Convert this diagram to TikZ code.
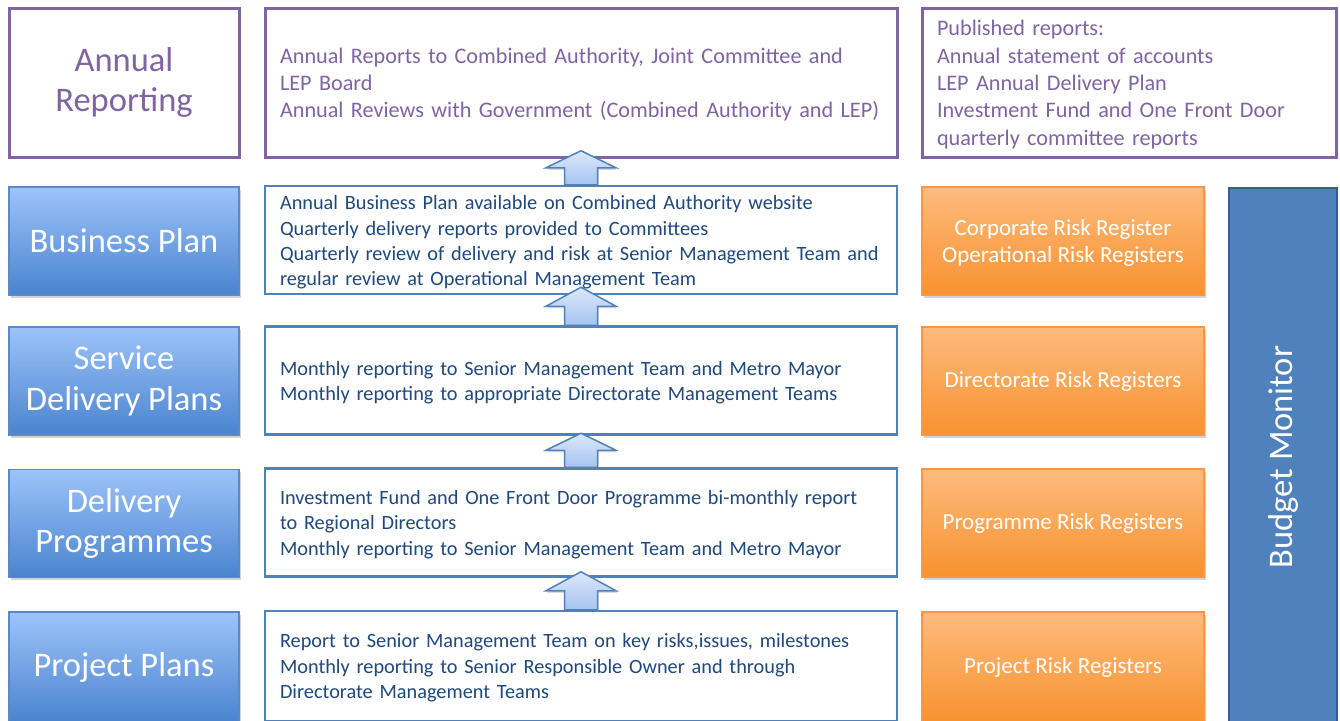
\documentclass[tikz,border=0pt]{standalone}
\usepackage{fontspec}
\setmainfont{Carlito}
\usetikzlibrary{shadows,calc}

\definecolor{purp}{HTML}{8064A2}
\definecolor{bluebd}{HTML}{4F81BD}
\definecolor{bluetxt}{HTML}{1F497D}
\definecolor{lbtop}{HTML}{9DC3FA}
\definecolor{lbbot}{HTML}{4A84CE}
\definecolor{lbbd}{HTML}{5A8AC6}
\definecolor{ortop}{HTML}{FDBB7D}
\definecolor{orbot}{HTML}{F8922F}
\definecolor{orbd}{HTML}{F79646}
\definecolor{bmfill}{HTML}{4F81BD}
\definecolor{bmbd}{HTML}{385D8A}
\definecolor{arrtop}{HTML}{DCE8FA}
\definecolor{arrbot}{HTML}{A6C3F0}

\tikzset{
  softshadow/.style={drop shadow={opacity=0.35,shadow xshift=1.5pt,shadow yshift=-2.5pt}},
  titlebox/.style={rectangle, draw=purp, line width=3pt, fill=white,
    minimum width=230, minimum height=149, text=purp, align=center,
    font=\fontsize{34.5}{40}\selectfont},
  purpbox/.style={rectangle, draw=purp, line width=3pt, fill=white,
    minimum height=149},
  purptext/.style={inner sep=0pt, align=left, text=purp,
    font=\fontsize{22.2}{27.4}\selectfont},
  levelbox/.style={rectangle, draw=lbbd, line width=1.5pt,
    top color=lbtop, bottom color=lbbot, softshadow,
    minimum width=230, minimum height=108, text=white, align=center,
    font=\fontsize{34.5}{40.5}\selectfont},
  detailbox/.style={rectangle, draw=bluebd, line width=2.5pt, fill=white,
    minimum width=632, minimum height=108},
  detailtext/.style={inner sep=0pt, text width=602pt, align=left,
    text=bluetxt, font=\fontsize{20.3}{25.4}\selectfont},
  riskbox/.style={rectangle, draw=orbd, line width=1.2pt,
    top color=ortop, bottom color=orbot, softshadow,
    minimum width=282, minimum height=108, text=white, align=center,
    font=\fontsize{23}{27}\selectfont},
  uparrow/.style={draw=bluebd, line width=1.5pt, line join=miter,
    top color=arrtop, bottom color=arrbot,
    drop shadow={opacity=0.3,shadow xshift=1pt,shadow yshift=-2pt}},
}

% block arrow pointing up from the top edge of box #1, length #2
\newcommand\blockup[2]{%
  \path[uparrow]
    ($(#1.north)+(-16.5,0)$) -- ($(#1.north)+(-16.5,-#2/2)$)
    -- ($(#1.north)+(-35,-#2/2)$) -- ($(#1.north)+(0,-#2)$)
    -- ($(#1.north)+(35,-#2/2)$) -- ($(#1.north)+(16.5,-#2/2)$)
    -- ($(#1.north)+(16.5,0)$) -- cycle;}

\begin{document}
\begin{tikzpicture}[x=1pt,y=-1pt]
\useasboundingbox (0,0) rectangle (1340,720);

% annual reporting row
\node[titlebox] (ar) at (124,82.5) {Annual\\Reporting};
\node[purpbox, minimum width=632] (art) at (581,82.5) {};
\node[purptext, text width=602pt] (artx) at ([yshift=-2pt]art.center)
  {Annual Reports to Combined Authority, Joint Committee and\\
   LEP Board\\
   Annual Reviews with Government (Combined Authority and LEP)};
\node[purpbox, minimum width=414] (pub) at (1129,82.5) {};
\node[purptext, text width=384pt] (pubx) at ([yshift=-2pt]pub.center)
  {Published reports:\\
   Annual statement of accounts\\
   LEP Annual Delivery Plan\\
   Investment Fund and One Front Door\\
   quarterly committee reports};

% budget monitor column
\node[rectangle, draw=bmbd, line width=2pt, fill=bmfill,
      minimum width=108, minimum height=560] (bm) at (1282.5,468) {};
\node[rotate=90, text=white, font=\fontsize{34.5}{40}\selectfont] (bmt)
  at (1283,457) {Budget Monitor};

% business plan row
\node[levelbox] (bp) at (124,241) {Business Plan};
\node[detailbox] (bpt) at (581,240) {};
\node[detailtext] (bptx) at ([yshift=-2.5pt]bpt.center)
  {Annual Business Plan available on Combined Authority website\\
   Quarterly delivery reports provided to Committees\\
   Quarterly review of delivery and risk at Senior Management Team and\\
   regular review at Operational Management Team};
\node[riskbox] (bpr) at (1063,241) {};
\node[white, align=center, font=\fontsize{23}{27}\selectfont] (bprx)
  at ([yshift=-2pt]bpr.center)
  {Corporate Risk Register\\Operational Risk Registers};

% service delivery row
\node[levelbox] (sd) at (124,381) {Service\\Delivery Plans};
\node[detailbox] (sdt) at (581,380.5) {};
\node[detailtext] (sdtx) at ([yshift=-2pt]sdt.center)
  {Monthly reporting to Senior Management Team and Metro Mayor\\
   Monthly reporting to appropriate Directorate Management Teams};
\node[riskbox] (sdr) at (1063,381) {Directorate Risk Registers};

% delivery programmes row
\node[levelbox] (dp) at (124,523.5) {Delivery\\Programmes};
\node[detailbox] (dpt) at (581,522.5) {};
\node[detailtext] (dptx) at ([yshift=-2pt]dpt.center)
  {Investment Fund and One Front Door Programme bi-monthly report\\
   to Regional Directors\\
   Monthly reporting to Senior Management Team and Metro Mayor};
\node[riskbox] (dpr) at (1063,523) {Programme Risk Registers};

% project plans row
\node[levelbox, minimum height=110] (pp) at (124,667) {Project Plans};
\node[detailbox, minimum height=110] (ppt) at (581,666) {};
\node[detailtext] (pptx) at ([yshift=-2pt]ppt.center)
  {Report to Senior Management Team on key risks,issues, milestones\\
   Monthly reporting to Senior Responsible Owner and through\\
   Directorate Management Teams};
\node[riskbox, minimum height=110] (ppr) at (1063,667) {Project Risk Registers};

% upward arrows between the detail boxes
\blockup{bpt}{34}
\blockup{sdt}{38}
\blockup{dpt}{34}
\blockup{ppt}{38}
\end{tikzpicture}
\end{document}
